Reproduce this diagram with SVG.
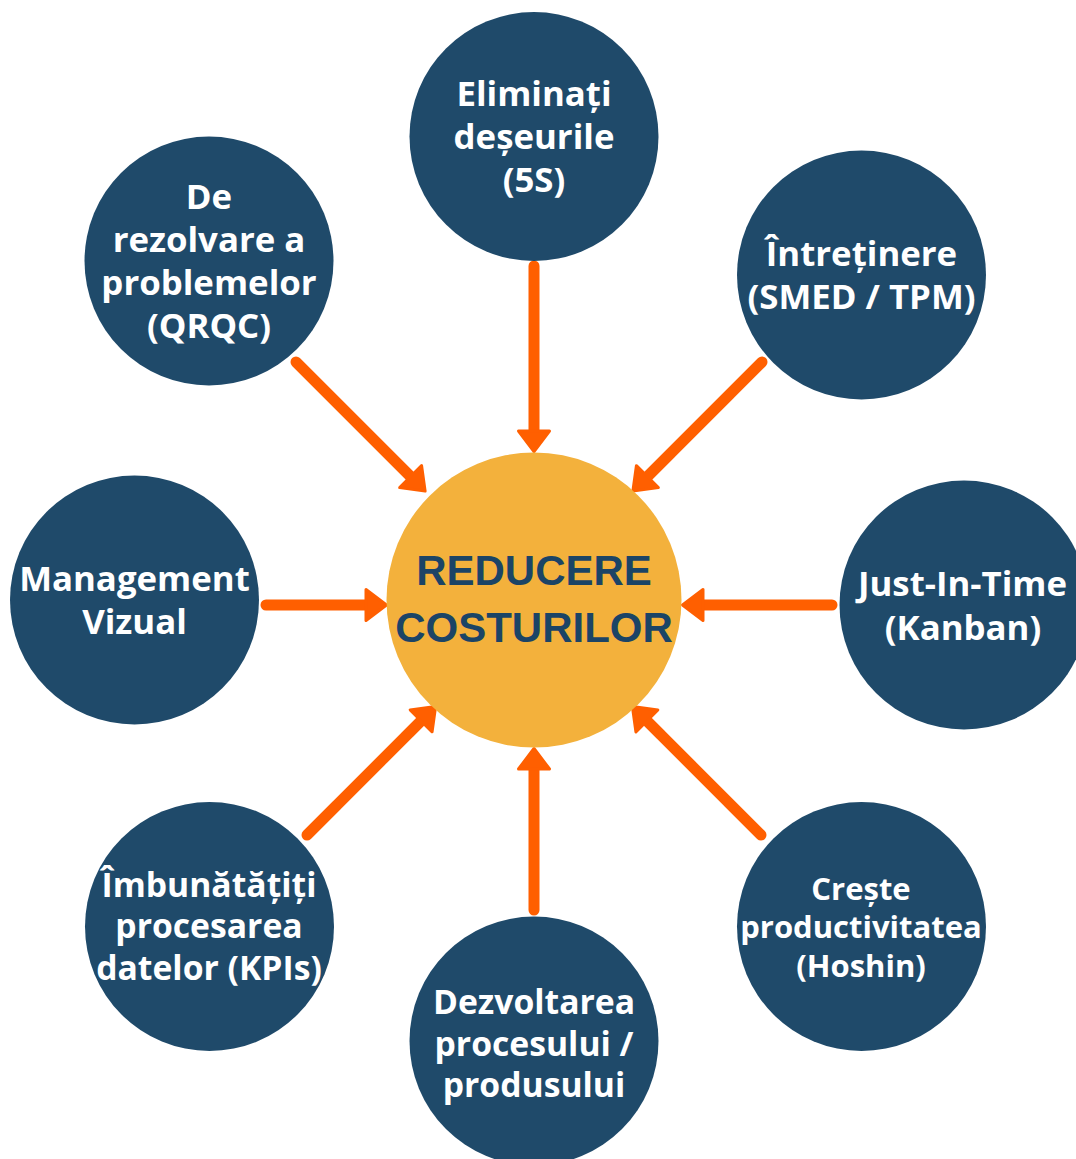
<svg xmlns="http://www.w3.org/2000/svg" width="1076" height="1159" viewBox="0 0 1076 1159">
<style>
.node{fill:#1F4A6A;}
.lbl{font-family:"Open Sans","Noto Sans","DejaVu Sans",sans-serif;font-weight:700;font-size:34.8px;fill:#FFFFFF;text-anchor:middle;}
.sm{font-size:31px;}
.md{font-size:33.7px;}
.conn{stroke:#FF5F00;stroke-width:11;stroke-linecap:round;fill:none;marker-end:url(#ah);}
.core{fill:#F3B13C;}
.coretxt{font-family:"Liberation Sans",Arial,sans-serif;font-weight:700;font-size:42px;fill:#1B4466;text-anchor:middle;}
</style>
<defs>
<marker id="ah" markerUnits="userSpaceOnUse" viewBox="-12 -18 28 36" refX="0" refY="0" markerWidth="28" markerHeight="36" orient="auto">
<path d="M-9,-15.5 L11.5,0 L-9,15.5 Z" fill="#FF5F00" stroke="#FF5F00" stroke-width="3" stroke-linejoin="round"/>
</marker>
</defs>
<rect width="1076" height="1159" fill="#FFFFFF"/>
<g id="connectors">
<line class="conn" x1="534" y1="266" x2="534" y2="440"/>
<line class="conn" x1="296" y1="362" x2="417" y2="483"/>
<line class="conn" x1="762" y1="362" x2="641" y2="483"/>
<line class="conn" x1="266" y1="605" x2="375" y2="605"/>
<line class="conn" x1="832" y1="605" x2="694" y2="605"/>
<line class="conn" x1="307" y1="835" x2="427.5" y2="714.5"/>
<line class="conn" x1="761" y1="835" x2="640.5" y2="714.5"/>
<line class="conn" x1="534" y1="910" x2="534" y2="760"/>
</g>
<g id="center">
<circle class="core" cx="534" cy="600" r="147.5"/>
<text class="coretxt" x="534" y="585">REDUCERE</text>
<text class="coretxt" x="534" y="642">COSTURILOR</text>
</g>
<g id="n-5s">
<circle class="node" cx="534" cy="136.5" r="124.5"/>
<text class="lbl" x="534" y="106">Eliminați</text>
<text class="lbl" x="534" y="149">deșeurile</text>
<text class="lbl" x="534" y="192">(5S)</text>
</g>
<g id="n-qrqc">
<circle class="node" cx="209" cy="261" r="124.5"/>
<text class="lbl" x="209" y="209">De</text>
<text class="lbl" x="209" y="252">rezolvare a</text>
<text class="lbl" x="209" y="295">problemelor</text>
<text class="lbl" x="209" y="338">(QRQC)</text>
</g>
<g id="n-smed">
<circle class="node" cx="861.5" cy="275" r="124.5"/>
<text class="lbl" x="861.5" y="266">Întreținere</text>
<text class="lbl" x="861.5" y="309">(SMED / TPM)</text>
</g>
<g id="n-jit">
<circle class="node" cx="964" cy="605" r="124.5"/>
<text class="lbl" x="962.5" y="596">Just-In-Time</text>
<text class="lbl" x="963" y="640">(Kanban)</text>
</g>
<g id="n-vizual">
<circle class="node" cx="134.5" cy="600" r="124.5"/>
<text class="lbl" x="134.5" y="591">Management</text>
<text class="lbl" x="134.5" y="634">Vizual</text>
</g>
<g id="n-hoshin">
<circle class="node" cx="861.5" cy="926.5" r="124.5"/>
<text class="lbl sm" x="861" y="900">Crește</text>
<text class="lbl sm" x="861" y="938">productivitatea</text>
<text class="lbl sm" x="861" y="977">(Hoshin)</text>
</g>
<g id="n-kpi">
<circle class="node" cx="209.5" cy="926.5" r="124.5"/>
<text class="lbl md" x="209" y="897">Îmbunătățiți</text>
<text class="lbl md" x="209" y="938">procesarea</text>
<text class="lbl md" x="209" y="980">datelor (KPIs)</text>
</g>
<g id="n-dezv">
<circle class="node" cx="534" cy="1041" r="124.5"/>
<text class="lbl md" x="534" y="1014">Dezvoltarea</text>
<text class="lbl md" x="534" y="1056">procesului /</text>
<text class="lbl md" x="534" y="1097">produsului</text>
</g>
</svg>
